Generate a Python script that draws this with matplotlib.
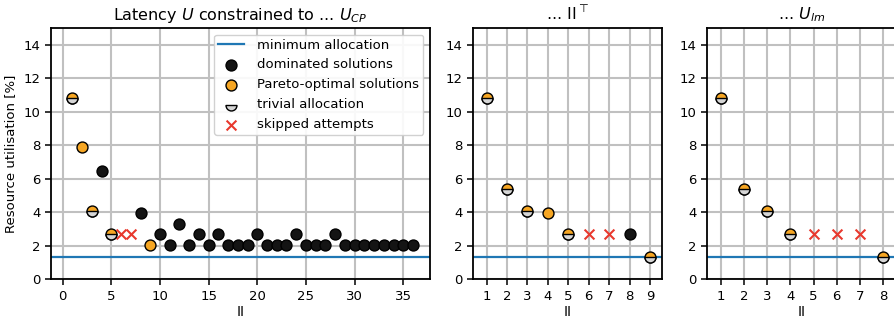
import matplotlib
matplotlib.use("Agg")
import matplotlib.pyplot as plt
from matplotlib.markers import MarkerStyle

# data
min_alloc = 1.35

cp_dom_x = [4, 8, 10, 11, 12, 13, 14, 15, 16, 17, 18, 19, 20, 21, 22, 23, 24,
            25, 26, 27, 28, 29, 30, 31, 32, 33, 34, 35, 36]
cp_dom_y = [6.45, 3.95, 2.7, 2.05, 3.3, 2.05, 2.7, 2.05, 2.7, 2.05, 2.05, 2.05,
            2.7, 2.05, 2.05, 2.05, 2.7, 2.05, 2.05, 2.05, 2.7, 2.05, 2.05, 2.05,
            2.05, 2.05, 2.05, 2.05, 2.05]
cp_par_x = [1, 2, 3, 5, 9]
cp_par_y = [10.8, 7.9, 4.05, 2.7, 2.05]
cp_triv_x = [1, 3, 5]
cp_triv_y = [10.8, 4.05, 2.7]
cp_skip_x = [6, 7]
cp_skip_y = [2.7, 2.7]

iit_dom_x = [8]
iit_dom_y = [2.7]
iit_par_x = [1, 2, 3, 4, 5, 9]
iit_par_y = [10.8, 5.4, 4.05, 3.95, 2.7, 1.35]
iit_triv_x = [1, 2, 3, 5, 9]
iit_triv_y = [10.8, 5.4, 4.05, 2.7, 1.35]
iit_skip_x = [6, 7]
iit_skip_y = [2.7, 2.7]

lm_dom_x = []
lm_dom_y = []
lm_par_x = [1, 2, 3, 4, 8]
lm_par_y = [10.8, 5.4, 4.05, 2.7, 1.35]
lm_triv_x = [1, 2, 3, 4, 8]
lm_triv_y = [10.8, 5.4, 4.05, 2.7, 1.35]
lm_skip_x = [5, 6, 7]
lm_skip_y = [2.7, 2.7, 2.7]

ORANGE = "#f6a623"
BLACK = "#141414"
GREY = "#d6d6d6"
RED = "#e8382d"
BLUE = "#1f77b4"

plt.rcParams.update({
    "font.family": "DejaVu Sans",
    "font.size": 9.5,
    "axes.linewidth": 1.3,
    "xtick.major.width": 1.1,
    "ytick.major.width": 1.1,
    "xtick.major.size": 4,
    "ytick.major.size": 4,
    "mathtext.fontset": "dejavusans",
})

W, H = 894, 322
fig = plt.figure(figsize=(W / 100, H / 100), dpi=100)


def box(left, right, top=28, bottom=279.3):
    return [left / W, 1 - bottom / H, (right - left) / W, (bottom - top) / H]


ax1 = fig.add_axes(box(51, 430))
ax2 = fig.add_axes(box(473.3, 662.3))
ax3 = fig.add_axes(box(706.7, 897.2))

S = 62
panels = [
    (ax1, cp_dom_x, cp_dom_y, cp_par_x, cp_par_y, cp_triv_x, cp_triv_y,
     cp_skip_x, cp_skip_y),
    (ax2, iit_dom_x, iit_dom_y, iit_par_x, iit_par_y, iit_triv_x, iit_triv_y,
     iit_skip_x, iit_skip_y),
    (ax3, lm_dom_x, lm_dom_y, lm_par_x, lm_par_y, lm_triv_x, lm_triv_y,
     lm_skip_x, lm_skip_y),
]

half = MarkerStyle("o", fillstyle="bottom")

for ax, dx, dy, px, py, tx, ty, sx, sy in panels:
    ax.set_axisbelow(True)
    ax.grid(True, color="#c0c0c0", linewidth=1.5)
    ax.axhline(min_alloc, color=BLUE, linewidth=1.6, label="minimum allocation",
               zorder=2)
    ax.scatter(dx, dy, s=S, color=BLACK, edgecolor="black", linewidth=1.0,
               label="dominated solutions", zorder=3)
    ax.scatter(px, py, s=S, color=ORANGE, edgecolor="black", linewidth=1.0,
               label="Pareto-optimal solutions", zorder=3)
    ax.scatter(tx, ty, s=S, marker=half, color=GREY, edgecolor="black",
               linewidth=1.0, label="trivial allocation", zorder=4)
    ax.scatter(sx, sy, s=50, marker="x", color=RED, linewidth=1.5,
               label="skipped attempts", zorder=3)
    ax.set_ylim(0, 15)
    ax.set_yticks(range(0, 15, 2))
    ax.set_xlabel("II", fontsize=10, labelpad=2)

ax1.set_xlim(-1.2, 37.75)
ax1.set_xticks(range(0, 36, 5))
ax2.set_xlim(0.35, 9.6)
ax2.set_xticks(range(1, 10))
ax3.set_xlim(0.4, 8.6)
ax3.set_xticks(range(1, 9))

ax1.set_ylabel("Resource utilisation [%]", labelpad=5)
ax1.set_title(r"Latency $U$ constrained to ... $U_{CP}$", fontsize=11.5)
ax2.set_title(r"... II$^{\top}$", fontsize=11.5)
ax3.set_title(r"... $U_{lm}$", fontsize=11.5)

ax1.legend(loc="upper right", fontsize=9.5, handletextpad=1.0,
           borderpad=0.3, labelspacing=0.52, framealpha=0.9)

fig.savefig("out.png", dpi=100)
